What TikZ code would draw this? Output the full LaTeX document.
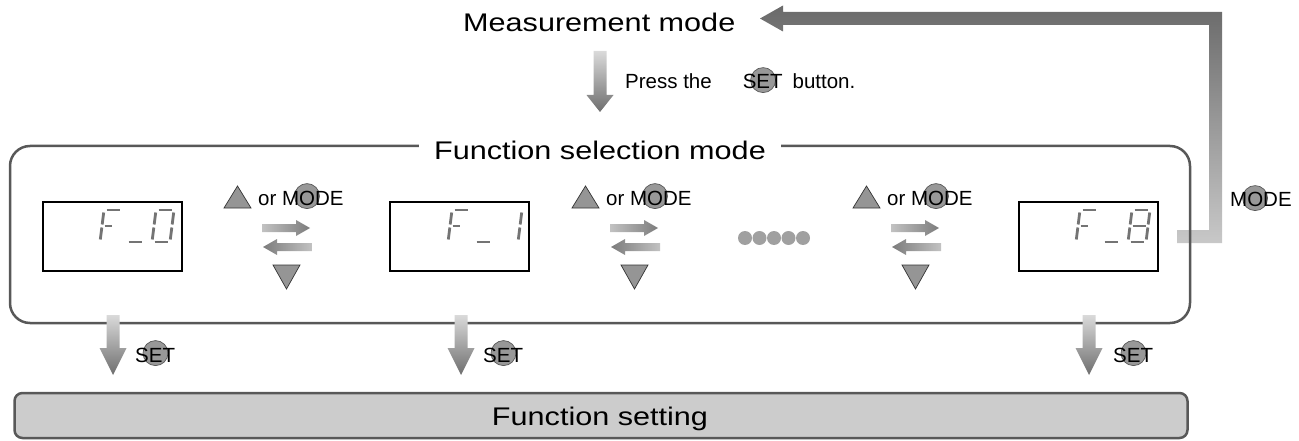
\documentclass[tikz,border=0pt]{standalone}
\usepackage{fontspec}
\setmainfont{Liberation Sans}
\newfontfamily\bigfont[FakeStretch=1.2]{Liberation Sans}
\definecolor{framec}{HTML}{585858}
\definecolor{arrlight}{HTML}{DADADA}
\definecolor{arrdark}{HTML}{6E6E6E}
\definecolor{retdark}{HTML}{6A6A6A}
\definecolor{retlight}{HTML}{C8C8C8}
\definecolor{hlight}{HTML}{C2C2C2}
\definecolor{hdark}{HTML}{7C7C7C}
\definecolor{btnc}{HTML}{989898}
\definecolor{tric}{HTML}{959595}
\definecolor{segc}{HTML}{747474}
\definecolor{dotc}{HTML}{A0A0A0}
\definecolor{setfill}{HTML}{CCCCCC}
\pgfdeclarelayer{bg}
\pgfsetlayers{bg,main}
\tikzset{
 bigtxt/.style={font=\bigfont\fontsize{25.5pt}{30pt}\selectfont, inner sep=0pt},
 smalltxt/.style={font=\fontsize{20.5pt}{24pt}\selectfont, inner sep=0pt},
 framebox/.style={draw=framec, line width=2.5pt, rounded corners=20pt, minimum width=1180pt, minimum height=177pt, inner sep=0pt},
 dispbox/.style={draw=black, line width=1.3pt, minimum width=139pt, minimum height=69pt, inner sep=0pt},
 setbox/.style={draw=framec, fill=setfill, line width=2.5pt, rounded corners=8pt, minimum width=1173pt, minimum height=45pt, inner sep=0pt},
 seg/.style={draw=segc, line width=2.8pt},
 tri/.style={fill=tric, draw=black!80, line width=0.7pt, line join=miter},
 btncirc/.style={fill=btnc, draw=black!65, line width=0.7pt},
}
% round button behind one letter of a text node: node name, x offset of the letter centre from the node's base west
\newcommand\btncircle[2]{\begin{pgfonlayer}{bg}\path[btncirc] ([xshift=#2pt,yshift=8.9pt]#1.base west) circle[radius=12.5pt];\end{pgfonlayer}}
% seven segment pieces (local coordinates, y downward, bottom at 0)
\newcommand\sga{\draw[seg] (2.5,-32) -- (15.5,-32);}
\newcommand\sgb{\draw[seg] (18,-29.5) -- (18,-17.5);}
\newcommand\sgc{\draw[seg] (18,-14.5) -- (18,-2.5);}
\newcommand\sgd{\draw[seg] (2.5,0) -- (15.5,0);}
\newcommand\sge{\draw[seg] (0,-14.5) -- (0,-2.5);}
\newcommand\sgf{\draw[seg] (0,-29.5) -- (0,-17.5);}
\newcommand\sgg{\draw[seg] (2.5,-16) -- (15.5,-16);}
\newcommand\sggs{\draw[seg] (2.5,-16) -- (10,-16);}
\newcommand\digit[2]{\begin{scope}[shift={(#1,242)}, xslant=0.125]#2\end{scope}}
\newcommand\blkdown[4]{\shade[top color=arrlight, bottom color=arrdark] (#1-6.5,#2) -- (#1+6.5,#2) -- (#1+6.5,#3) -- (#1+13.5,#3) -- (#1,#4) -- (#1-13.5,#3) -- (#1-6.5,#3) -- cycle;}
\newcommand\rarr[3]{\shade[left color=hlight, right color=hdark] (#1,#3-4) -- (#2-14,#3-4) -- (#2-14,#3-8) -- (#2,#3) -- (#2-14,#3+8) -- (#2-14,#3+4) -- (#1,#3+4) -- cycle;}
\newcommand\larr[3]{\shade[left color=hdark, right color=hlight] (#2,#3-4) -- (#1+14,#3-4) -- (#1+14,#3-8) -- (#1,#3) -- (#1+14,#3+8) -- (#1+14,#3+4) -- (#2,#3+4) -- cycle;}
\newcommand\ctrlgroup[2]{%
 \draw[tri] (224+#1,208) -- (251+#1,208) -- (237.5+#1,186) -- cycle;
 \node[smalltxt, anchor=base west] (#2) at (258+#1,205) {or MODE};
 \btncircle{#2}{49}
 \rarr{262+#1}{310+#1}{228}
 \larr{263+#1}{312+#1}{247}
 \draw[tri] (273+#1,265) -- (300+#1,265) -- (286.5+#1,289) -- cycle;}
\begin{document}
\begin{tikzpicture}[x=1pt,y=-1pt]
\useasboundingbox (0,0) rectangle (1299,441);
% return arrow
\shade[top color=retdark, bottom color=retlight] (760,18.5) -- (783,31.5) -- (783,25) -- (1209,25) -- (1209,230) -- (1177,230) -- (1177,243) -- (1222,243) -- (1222,12) -- (783,12) -- (783,5.5) -- cycle;
\node[smalltxt, anchor=base west] (modeR) at (1230,207) {MODE};
\btncircle{modeR}{25.1}
% top text
\node[bigtxt, anchor=base west] (meas) at (463,32) {Measurement mode};
\blkdown{600}{51}{95}{112}
\node[smalltxt, anchor=base west] (press) at (625,89) {Press the\hspace{31pt}SET\hspace{10pt}button.};
\btncircle{press}{138.1}
% frame
\node[framebox] (frame) at (600,234.5) {};
\node[bigtxt, fill=white, inner xsep=15pt, inner ysep=3pt, anchor=base] (title) at (600,160) {Function selection mode};
% displays
\node[dispbox] (d0) at (112.5,236.5) {};
\node[dispbox] (d1) at (459.5,236.5) {};
\node[dispbox] (d8) at (1088.5,236.5) {};
\digit{100}{\sga\sgf\sge\sggs}
\digit{126}{\sgd}
\digit{152}{\sga\sgb\sgc\sgd\sge\sgf}
\digit{448}{\sga\sgf\sge\sggs}
\digit{474}{\sgd}
\digit{500}{\sgb\sgc}
\digit{1076}{\sga\sgf\sge\sggs}
\digit{1102}{\sgd}
\digit{1128}{\sga\sgb\sgc\sgd\sge\sgf\sgg}
% control groups
\ctrlgroup{0}{om0}
\ctrlgroup{348}{om1}
\ctrlgroup{629}{om2}
\foreach \i in {0,...,4} \fill[dotc] (745+14.5*\i,238) circle[radius=7];
% SET arrows
\blkdown{113}{315}{348}{375}
\blkdown{461}{315}{348}{375}
\blkdown{1089}{315}{348}{375}
\node[smalltxt, anchor=base west] (set0) at (135,362) {SET};
\btncircle{set0}{20.5}
\node[smalltxt, anchor=base west] (set1) at (483,362) {SET};
\btncircle{set1}{20.5}
\node[smalltxt, anchor=base west] (set8) at (1113,362) {SET};
\btncircle{set8}{20.5}
% function setting
\node[setbox] (fset) at (601,415.5) {};
\node[bigtxt, anchor=base] (fsettxt) at (600,425) {Function setting};
\end{tikzpicture}
\end{document}
